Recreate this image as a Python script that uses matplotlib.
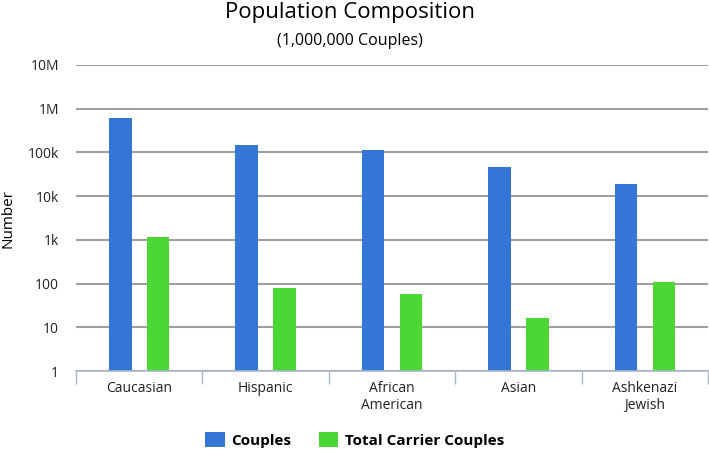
import matplotlib.pyplot as plt
import numpy as np

# data
groups = ["Caucasian", "Hispanic", "African\nAmerican", "Asian", "Ashkenazi\nJewish"]
couples = [612000, 150000, 115000, 46000, 18800]
carrier_couples = [1150, 78, 58, 16, 111]
ytick_vals = [1, 10, 100, 1000, 10000, 100000, 1000000, 10000000]
ytick_labels = ["1", "10", "100", "1k", "10k", "100k", "1M", "10M"]

blue = "#3476d6"
green = "#4bd835"
font = ["Open Sans", "DejaVu Sans"]
plt.rcParams["font.family"] = font

fig = plt.figure(figsize=(7.09, 4.51), dpi=100)
ax = fig.add_axes([0.107, 0.177, 0.892, 0.679])

x = np.arange(len(groups))
ax.bar(x - 0.15, couples, width=0.18, color=blue, zorder=3, label="Couples")
ax.bar(x + 0.15, carrier_couples, width=0.18, color=green, zorder=3, label="Total Carrier Couples")

ax.set_yscale("log")
ax.set_ylim(1, 1e7)
ax.set_xlim(-0.5, len(groups) - 0.5)
ax.yaxis.set_major_locator(plt.FixedLocator(ytick_vals))
ax.yaxis.set_minor_locator(plt.NullLocator())
ax.set_yticks(ytick_vals, ytick_labels)
ax.grid(axis="y", color="#a0a0a0", lw=1.5, zorder=1)

ax.set_xticks(x, groups)
ax.set_xticks(np.arange(len(groups) + 1) - 0.5, minor=True)
ax.tick_params(axis="x", which="major", length=0, pad=7, labelsize=10, colors="#222222")
ax.tick_params(axis="x", which="minor", length=9, color="#a8b6cc", width=1)
ax.tick_params(axis="y", length=0, pad=12, labelsize=10, colors="#222222")

for s in ["top", "right", "left"]:
    ax.spines[s].set_visible(False)
ax.spines["bottom"].set_color("#a8b6cc")
ax.spines["bottom"].set_linewidth(1.2)
ax.spines["bottom"].set_zorder(4)

ax.set_ylabel("Number", fontsize=11, labelpad=8)
ax.yaxis.set_label_coords(-0.095, 0.5)

fig.text(0.494, 0.972, "Population Composition", ha="center", va="center", fontsize=16)
fig.text(0.494, 0.91, "(1,000,000 Couples)", ha="center", va="center", fontsize=11.5)

fig.legend(loc="center", bbox_to_anchor=(0.5, 0.024), ncol=2, frameon=False,
           prop={"weight": "bold", "size": 11}, handlelength=1.3, handleheight=1.1,
           handletextpad=0.4, columnspacing=1.8)

fig.savefig("out.png", dpi=100)
